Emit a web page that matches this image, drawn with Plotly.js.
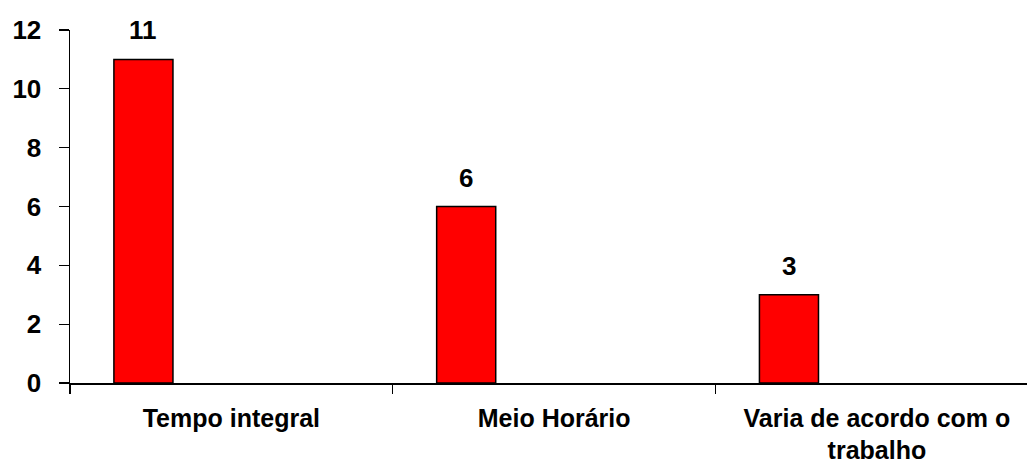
<!DOCTYPE html>
<html>
<head>
<meta charset="utf-8">
<script src="https://cdn.plot.ly/plotly-3.0.1.min.js"></script>
<style>
  html, body { margin: 0; padding: 0; background: #fff; }
  #chart { width: 1027px; height: 466px; }
</style>
</head>
<body>
<div id="chart"></div>
<script>
// Work schedule categories and respondent counts
const categories = ['Tempo integral', 'Meio Horário', 'Varia de acordo com o<br>trabalho'];
const counts = [11, 6, 3];
const yTicks = [0, 2, 4, 6, 8, 10, 12];

const FONT = '"Liberation Sans", Arial, sans-serif';

const bars = {
  type: 'bar',
  x: categories,
  y: counts,
  offset: -0.364,
  width: 0.183,
  marker: { color: '#ff0000', line: { color: '#000000', width: 1.5 } },
  hoverinfo: 'skip'
};

// value labels above each bar
const labels = categories.map((c, i) => ({
  x: c,
  y: counts[i],
  xref: 'x',
  yref: 'y',
  text: '<b>' + counts[i] + '</b>',
  showarrow: false,
  xanchor: 'center',
  yanchor: 'bottom',
  xshift: -88,
  yshift: 12,
  font: { family: FONT, size: 26, color: '#000' }
}));

const layout = {
  width: 1027,
  height: 466,
  margin: { l: 70, r: 0, t: 30, b: 83, pad: 0 },
  paper_bgcolor: '#ffffff',
  plot_bgcolor: '#ffffff',
  showlegend: false,
  font: { family: FONT, color: '#000' },
  xaxis: {
    type: 'category',
    range: [-0.5, 2.465],
    showline: true,
    linecolor: '#000',
    linewidth: 1.5,
    showgrid: false,
    zeroline: false,
    ticks: 'outside',
    tickson: 'boundaries',
    ticklen: 9,
    tickwidth: 1.2,
    tickcolor: '#000',
    ticklabelstandoff: 12,
    tickfont: { family: FONT, size: 25, color: '#000', weight: 'bold' }
  },
  yaxis: {
    range: [0, 12],
    tickvals: yTicks,
    showline: true,
    linecolor: '#000',
    linewidth: 1.5,
    showgrid: false,
    zeroline: false,
    ticks: 'outside',
    ticklen: 10,
    tickwidth: 1.2,
    tickcolor: '#000',
    ticklabelstandoff: 12,
    tickfont: { family: FONT, size: 26, color: '#000', weight: 'bold' }
  },
  annotations: labels
};

Plotly.newPlot('chart', [bars], layout, { staticPlot: true, displayModeBar: false });
</script>
</body>
</html>
